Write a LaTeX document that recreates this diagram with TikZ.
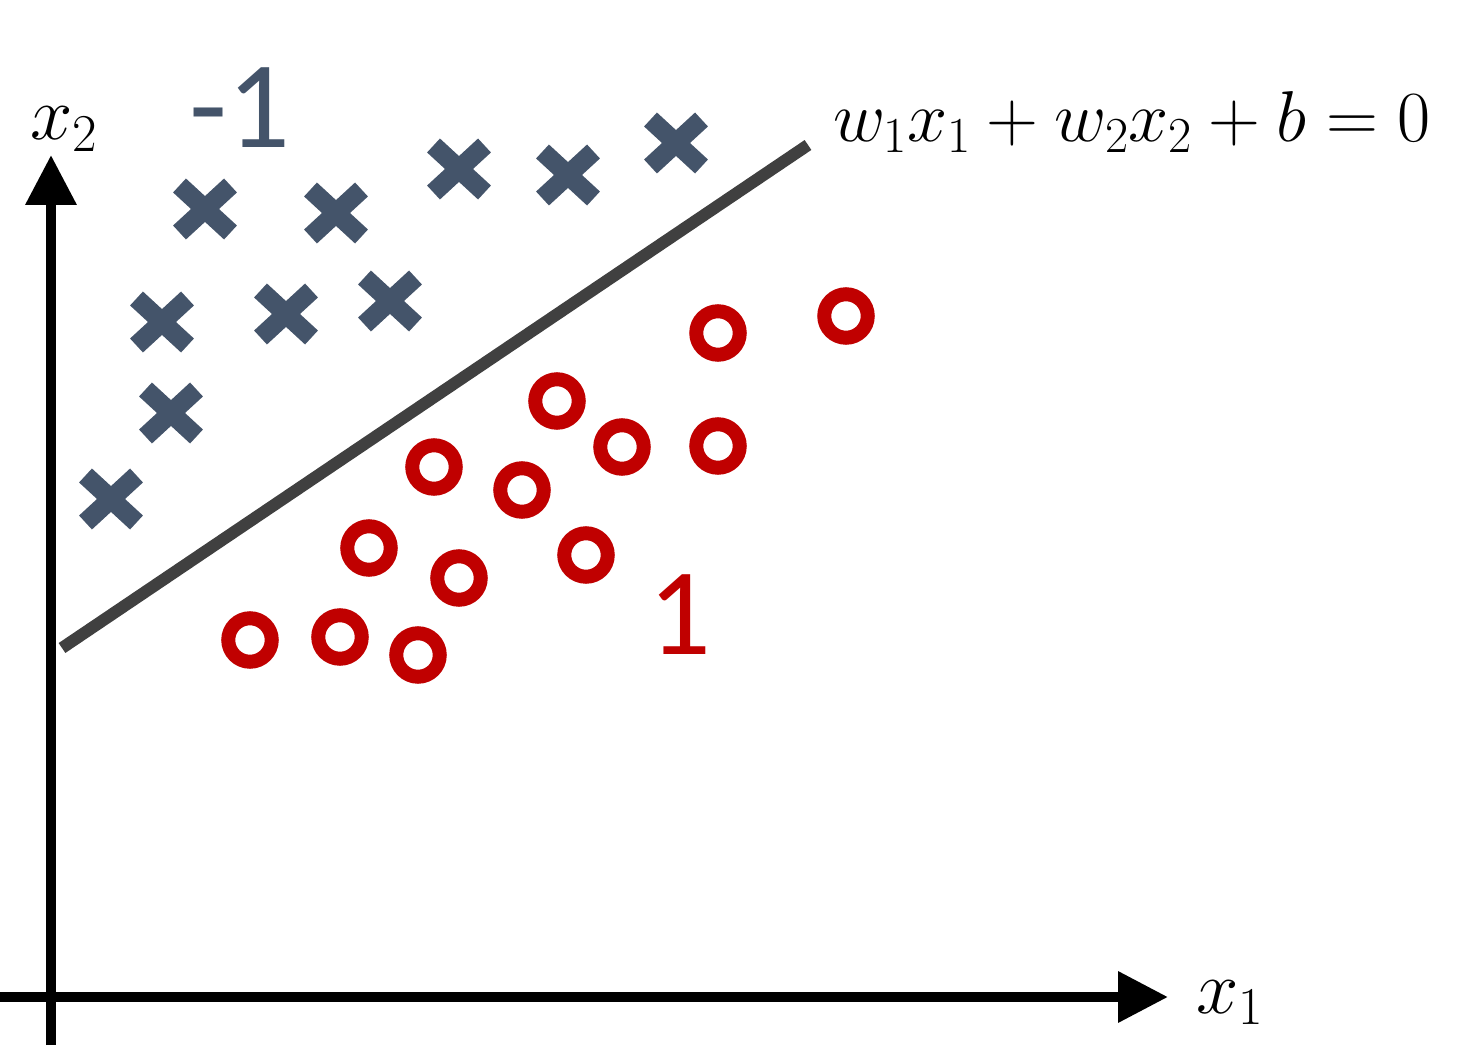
\RequirePackage{fix-cm}
\documentclass[tikz,border=0pt]{standalone}
\usepackage{fontspec}
\newfontfamily\calfont{Carlito}
\usetikzlibrary{arrows.meta}
\definecolor{slate}{HTML}{44546A}
\definecolor{dred}{HTML}{C00000}
\definecolor{lgray}{HTML}{404040}
\tikzset{
  axisline/.style={line width=10pt,black,-{Triangle[length=50pt,width=49pt]}},
  ring/.style={circle,draw=dred,line width=14pt,minimum size=43.5pt,inner sep=0pt},
  xmark/.pic={\draw[slate,line width=19pt] (-25.5,-23.5)--(25.5,23.5) (-25.5,23.5)--(25.5,-23.5);},
  mathlbl/.style={inner sep=0pt,font=\fontsize{76}{90}\selectfont},
  numlbl/.style={inner sep=0pt,font=\calfont\fontsize{124}{140}\selectfont}
}
\begin{document}
\begin{tikzpicture}[x=1pt,y=-1pt]
\useasboundingbox (0,0) rectangle (1474,1048);
% axes
\coordinate (yb) at (51,1045);
\coordinate (yt) at (51,155);
\coordinate (xl) at (0,997);
\coordinate (xr) at (1168,997);
\draw[axisline] (yb) -- (yt);
\draw[axisline] (xl) -- (xr);
\node[mathlbl,anchor=base west] (lx2) at (30,140) {$x_2$};
\node[mathlbl,anchor=base west] (lx1) at (1196,1013) {$x_1$};
% separating line
\coordinate (ha) at (62,648);
\coordinate (hb) at (808,145);
\draw[lgray,line width=12pt] (ha) -- (hb);
\node[inner sep=0pt,anchor=base west,font=\fontsize{72}{86}\selectfont] (eq) at (833,142) {$w_1x_1+w_2x_2+b=0$};
% class labels
\node[numlbl,text=slate,anchor=base] (lneg) at (240,148) {-1};
\node[numlbl,text=dred,anchor=base] (lpos) at (680,654) {1};
% crosses
\pic (m1) at (205,209) {xmark};
\pic (m2) at (336,213) {xmark};
\pic (m3) at (459,169) {xmark};
\pic (m4) at (568,175) {xmark};
\pic (m5) at (676,143) {xmark};
\pic (m6) at (162,322) {xmark};
\pic (m7) at (286,314) {xmark};
\pic (m8) at (390,301) {xmark};
\pic (m9) at (171,413) {xmark};
\pic (m10) at (111,499) {xmark};
% circles
\node[ring] (c1) at (718,333) {};
\node[ring] (c2) at (846,316) {};
\node[ring] (c3) at (557,401) {};
\node[ring] (c4) at (622,447) {};
\node[ring] (c5) at (718,446) {};
\node[ring] (c6) at (434,467) {};
\node[ring] (c7) at (522,490) {};
\node[ring] (c8) at (369,548) {};
\node[ring] (c9) at (459,578) {};
\node[ring] (c10) at (586,555) {};
\node[ring] (c11) at (250,640) {};
\node[ring] (c12) at (340,637) {};
\node[ring] (c13) at (418,655) {};
\end{tikzpicture}
\end{document}
